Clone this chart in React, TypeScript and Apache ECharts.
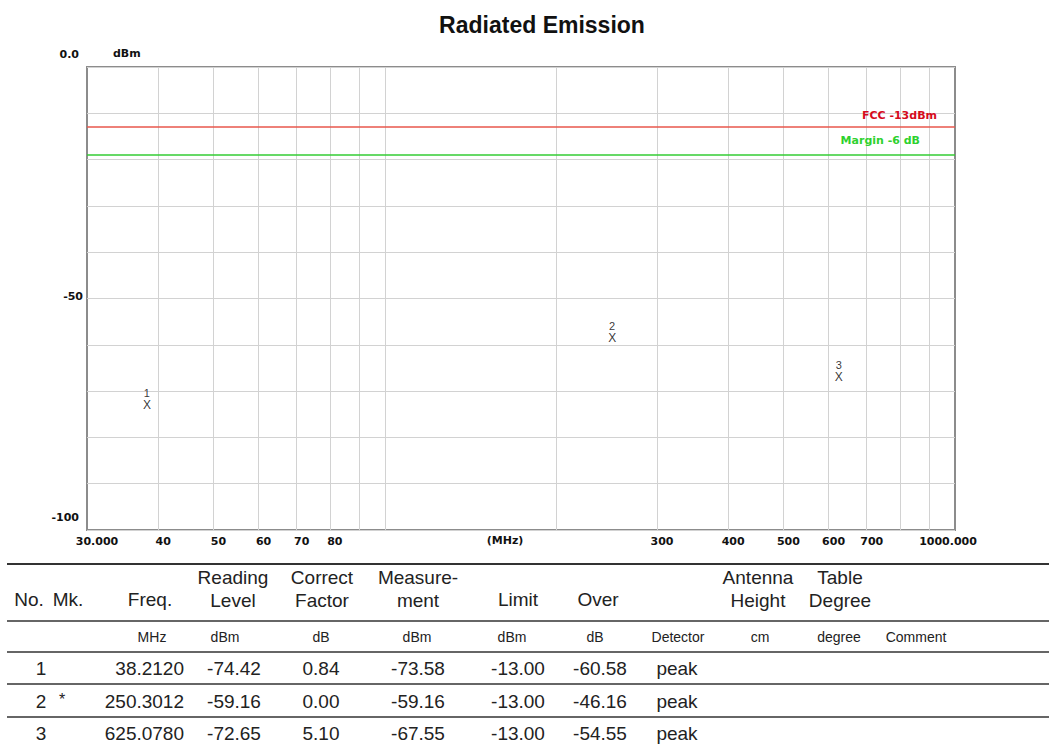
import React, { useEffect, useRef } from "react";
import * as echarts from "echarts";

// ---- data ----
const markNo = ["1", "2", "3"];
const markFlag = ["", "*", ""];
const freqMHz = [38.212, 250.3012, 625.078];
const readingLevel = [-74.42, -59.16, -72.65];
const correctFactor = [0.84, 0.0, 5.1];
const measurement = [-73.58, -59.16, -67.55];
const limitVals = [-13.0, -13.0, -13.0];
const overVals = [-60.58, -46.16, -54.55];
const detectorVals = ["peak", "peak", "peak"];

const fccLimit = -13;
const marginLimit = -19;

const xGridValues = [40, 50, 60, 70, 80, 90, 100, 200, 300, 400, 500, 600, 700, 800, 900];
const xLabelValues = [30, 40, 50, 60, 70, 80, 300, 400, 500, 600, 700, 1000];
const yLabelValues = [0, -50, -100];

const headerRow1 = [
  { t: "No.", x: 29, two: false },
  { t: "Mk.", x: 68, two: false },
  { t: "Freq.", x: 150, two: false },
  { t: "Reading\nLevel", x: 233, two: true },
  { t: "Correct\nFactor", x: 322, two: true },
  { t: "Measure-\nment", x: 418, two: true },
  { t: "Limit", x: 518, two: false },
  { t: "Over", x: 598, two: false },
  { t: "Antenna\nHeight", x: 758, two: true },
  { t: "Table\nDegree", x: 840, two: true },
];
const unitRow = [
  { t: "MHz", x: 152 },
  { t: "dBm", x: 225 },
  { t: "dB", x: 321 },
  { t: "dBm", x: 417 },
  { t: "dBm", x: 512 },
  { t: "dB", x: 595 },
  { t: "Detector", x: 678 },
  { t: "cm", x: 760 },
  { t: "degree", x: 839 },
  { t: "Comment", x: 916 },
];

const TICK_FONT = "DejaVu Sans";
const TABLE_FONT = "Liberation Sans, Arial, sans-serif";

function buildTable(): any[] {
  const els: any[] = [];
  const lineYs = [564, 621, 652, 684, 717];
  lineYs.forEach((y, i) => {
    els.push({
      type: "line",
      shape: { x1: 7, y1: y, x2: 1049, y2: y },
      style: { stroke: "#333", lineWidth: i === 0 ? 2 : 1.5 },
      silent: true,
    });
  });
  const txt = (text: string, x: number, y: number, size: number, align = "center") => ({
    type: "text",
    x,
    y,
    style: {
      text,
      fontSize: size,
      fontFamily: TABLE_FONT,
      fill: "#222",
      align,
      verticalAlign: "middle",
      lineHeight: 23,
    },
    silent: true,
  });
  headerRow1.forEach((h) => {
    els.push(txt(h.t, h.x, h.two ? 589 : 599, 19));
  });
  unitRow.forEach((u) => {
    els.push(txt(u.t, u.x, 637, 14));
  });
  const rowYs = [668, 701, 733];
  markNo.forEach((n, i) => {
    const y = rowYs[i];
    els.push(txt(n, 41, y, 19));
    if (markFlag[i]) els.push(txt(markFlag[i], 62, y - 2, 16));
    els.push(txt(freqMHz[i].toFixed(4), 184, y, 19, "right"));
    els.push(txt(readingLevel[i].toFixed(2), 234, y, 19));
    els.push(txt(correctFactor[i].toFixed(2), 321, y, 19));
    els.push(txt(measurement[i].toFixed(2), 418, y, 19));
    els.push(txt(limitVals[i].toFixed(2), 518, y, 19));
    els.push(txt(overVals[i].toFixed(2), 600, y, 19));
    els.push(txt(detectorVals[i], 677, y, 19));
  });
  return els;
}

export default function App() {
  const ref = useRef<HTMLDivElement>(null);
  useEffect(() => {
    document.body.style.margin = "0";
    if (!ref.current) return;
    const chart = echarts.init(ref.current, undefined, { renderer: "svg" });
    const points = freqMHz.map((f, i) => [f, measurement[i]]);
    const option: any = {
      animation: false,
      backgroundColor: "#fff",
      title: {
        text: "Radiated Emission",
        left: 537,
        top: 8,
        textAlign: "center",
        textStyle: { fontSize: 23, fontWeight: "bold", fontFamily: TABLE_FONT, color: "#111" },
      },
      grid: {
        left: 87,
        right: 94,
        top: 67,
        bottom: 219,
        show: true,
        borderColor: "#8c8c8c",
        borderWidth: 2,
        backgroundColor: "#fff",
        containLabel: false,
      },
      xAxis: {
        type: "log",
        logBase: 10,
        min: 30,
        max: 1000,
        name: "(MHz)",
        nameLocation: "middle",
        nameGap: 5,
        nameMoveOverlap: false,
        nameTextStyle: {
          fontFamily: TICK_FONT,
          fontWeight: "bold",
          fontSize: 11,
          color: "#111",
          padding: [0, 32, 0, 0],
        },
        axisLine: { show: false },
        axisTick: { show: false },
        splitLine: { show: false },
        minorSplitLine: { show: false },
        axisLabel: {
          customValues: xLabelValues,
          margin: 6,
          fontFamily: TICK_FONT,
          fontWeight: "bold",
          fontSize: 11,
          color: "#111",
          formatter: (v: number) => {
            if (Math.abs(v - 30) < 1e-6) return "{f|30.000}";
            if (Math.abs(v - 1000) < 1e-6) return "{l|1000.000}";
            return "{m|" + Math.round(v) + "}";
          },
          rich: {
            f: { fontFamily: TICK_FONT, fontWeight: "bold", fontSize: 11, color: "#111", padding: [0, 0, 0, 20] },
            l: { fontFamily: TICK_FONT, fontWeight: "bold", fontSize: 11, color: "#111", padding: [0, 14, 0, 0] },
            m: { fontFamily: TICK_FONT, fontWeight: "bold", fontSize: 11, color: "#111", padding: [0, 0, 0, 10] },
          },
        },
      },
      yAxis: {
        type: "value",
        min: -100,
        max: 0,
        interval: 10,
        name: "dBm",
        nameLocation: "end",
        nameGap: 8,
        nameMoveOverlap: false,
        nameTextStyle: {
          fontFamily: TICK_FONT,
          fontWeight: "bold",
          fontSize: 11,
          color: "#111",
          align: "left",
          padding: [0, 0, 0, 26],
        },
        axisLine: { show: false },
        axisTick: { show: false },
        splitLine: { show: true, lineStyle: { color: "#d2d2d2", width: 1 } },
        axisLabel: {
          margin: 4,
          fontFamily: TICK_FONT,
          fontWeight: "bold",
          fontSize: 11,
          color: "#111",
          formatter: (v: number) => {
            if (!yLabelValues.includes(v)) return "";
            if (v === 0) return "{t|0.0}";
            if (v === -50) return "{m|-50}";
            return "{t|" + v + "}";
          },
          rich: {
            t: { fontFamily: TICK_FONT, fontWeight: "bold", fontSize: 11, color: "#111", padding: [0, 4, 26, 0] },
            m: { fontFamily: TICK_FONT, fontWeight: "bold", fontSize: 11, color: "#111", padding: [0, 0, 4, 0] },
          },
        },
      },
      series: [
        {
          type: "line",
          data: [],
          silent: true,
          markLine: {
            silent: true,
            symbol: "none",
            animation: false,
            label: { show: false },
            lineStyle: { color: "#d2d2d2", width: 1, type: "solid" },
            data: xGridValues.map((v) => ({ xAxis: v })),
          },
        },
        {
          type: "line",
          data: [],
          silent: true,
          markLine: {
            silent: true,
            symbol: "none",
            animation: false,
            data: [
              {
                yAxis: fccLimit,
                lineStyle: { color: "#e8574c", width: 1.5, type: "solid" },
                label: {
                  show: true,
                  formatter: "FCC -13dBm",
                  position: "insideEndTop",
                  distance: [18, 6],
                  color: "#d60b1c",
                  fontFamily: TICK_FONT,
                  fontWeight: "bold",
                  fontSize: 11,
                },
              },
              {
                yAxis: marginLimit,
                lineStyle: { color: "#33cc33", width: 1.5, type: "solid" },
                label: {
                  show: true,
                  formatter: "Margin -6 dB",
                  position: "insideEndTop",
                  distance: [35, 9],
                  color: "#2ed12e",
                  fontFamily: TICK_FONT,
                  fontWeight: "bold",
                  fontSize: 11,
                },
              },
            ],
          },
        },
        {
          type: "scatter",
          data: points,
          symbolSize: 1,
          itemStyle: { color: "rgba(0,0,0,0)" },
          silent: true,
          label: {
            show: true,
            position: "inside",
            formatter: "X",
            offset: [0, -3],
            color: "#000",
            fontFamily: TABLE_FONT,
            fontSize: 12,
            lineHeight: 12,
          },
        },
        {
          type: "scatter",
          data: points.map((p, i) => ({ value: p, name: markNo[i] })),
          symbolSize: 1,
          itemStyle: { color: "rgba(0,0,0,0)" },
          silent: true,
          label: {
            show: true,
            position: "inside",
            formatter: (p: any) => p.name,
            offset: [0, -15],
            color: "#000",
            fontFamily: TABLE_FONT,
            fontSize: 11,
            lineHeight: 11,
          },
        },
      ],
      graphic: buildTable(),
    };
    chart.setOption(option);
    return () => chart.dispose();
  }, []);
  return <div ref={ref} style={{ width: 1049, height: 749 }} />;
}
